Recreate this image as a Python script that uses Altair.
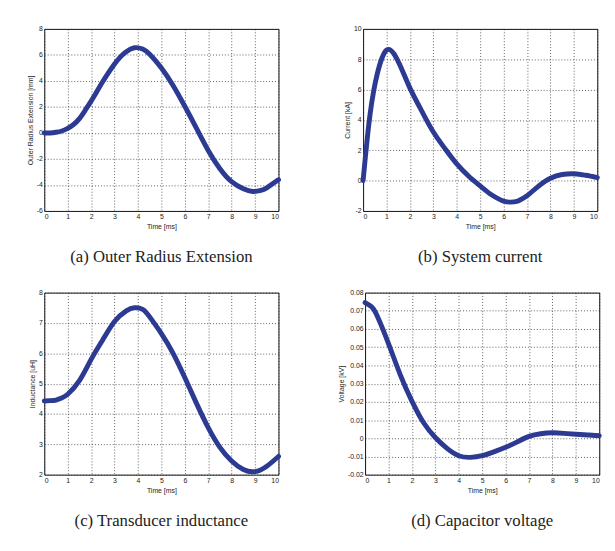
import altair as alt
import pandas as pd

# ---- (a) outer radius extension [mm] ----
t_a = [0, 0.25, 0.5, 0.75, 1, 1.25, 1.5, 1.75, 2, 2.25, 2.5, 2.75, 3, 3.25, 3.5, 3.85, 4.2,
       4.5, 5, 5.5, 6, 6.5, 7, 7.5, 8, 8.5, 8.9, 9.25, 9.5, 10]
r_a = [0, 0.0, 0.05, 0.15, 0.35, 0.65, 1.1, 1.75, 2.45, 3.2, 3.95, 4.65, 5.3, 5.85, 6.25, 6.55,
       6.45, 6.05, 5.0, 3.65, 2.05, 0.35, -1.35, -2.75, -3.75, -4.3, -4.5, -4.42, -4.22, -3.6]

# ---- (b) system current [kA] ----
t_b = [0, 0.1, 0.2, 0.3, 0.45, 0.6, 0.8, 1.0, 1.1, 1.3, 1.5, 2, 2.5, 3, 3.5, 4, 4.5, 5, 5.5,
       6, 6.3, 6.6, 7, 7.5, 8, 8.5, 8.9, 9.5, 10]
i_b = [0, 1.6, 3.1, 4.4, 5.9, 7.0, 8.05, 8.6, 8.65, 8.4, 7.85, 6.1, 4.6, 3.2, 2.1, 1.1, 0.3,
       -0.35, -0.95, -1.35, -1.42, -1.35, -1.0, -0.35, 0.15, 0.4, 0.45, 0.35, 0.2]

# ---- (c) transducer inductance [uH] ----
t_c = [0, 0.25, 0.5, 0.75, 1, 1.5, 2, 2.5, 3, 3.5, 3.85, 4.2, 4.5, 5, 5.5, 6, 6.5, 7, 7.5, 8,
       8.5, 9, 9.5, 10]
l_c = [4.43, 4.44, 4.46, 4.53, 4.65, 5.1, 5.8, 6.45, 7.05, 7.4, 7.5, 7.45, 7.2, 6.65, 6.0, 5.2,
       4.35, 3.55, 2.9, 2.45, 2.17, 2.1, 2.28, 2.6]

# ---- (d) capacitor voltage [kV] ----
t_d = [0, 0.25, 0.5, 1, 1.5, 2, 2.5, 3, 3.5, 4, 4.5, 5, 5.5, 6, 6.5, 7, 7.5, 8, 8.5, 9, 9.5, 10]
v_d = [0.0745, 0.0725, 0.0677, 0.052, 0.035, 0.0204, 0.0085, 0.0004, -0.0056, -0.0096,
       -0.0105, -0.0096, -0.0075, -0.005, -0.002, 0.001, 0.0025, 0.003, 0.0027, 0.0022,
       0.0018, 0.0014]

x_ticks = list(range(11))

LINE = "#2c3a92"
AX_FONT = "Liberation Sans"


def panel(t, v, y_title, y_dom, y_ticks, fmt, caption, interp):
    df = pd.DataFrame({"t": t, "v": v})
    label_expr = (
        f"datum.value < 0 ? '-' + format(-datum.value, '{fmt}') : format(datum.value, '{fmt}')"
    )
    return (
        alt.Chart(df)
        .mark_line(color=LINE, strokeWidth=5, interpolate=interp, strokeCap="round")
        .encode(
            x=alt.X(
                "t:Q",
                scale=alt.Scale(domain=[0, 10], nice=False, zero=False),
                axis=alt.Axis(values=x_ticks, title="Time [ms]", format="d"),
            ),
            y=alt.Y(
                "v:Q",
                scale=alt.Scale(domain=y_dom, nice=False, zero=False),
                axis=alt.Axis(values=y_ticks, title=y_title, labelExpr=label_expr),
            ),
        )
        .properties(
            width=238,
            height=185,
            title=alt.TitleParams(
                caption,
                orient="bottom",
                font="Liberation Serif",
                fontSize=17,
                fontWeight="normal",
                color="#222222",
                offset=20,
            ),
        )
    )


pa = panel(t_a, r_a, "Outer Radius Extension [mm]", [-6, 8], [-6, -4, -2, 0, 2, 4, 6, 8],
           "d", "(a) Outer Radius Extension", "natural")
pb = panel(t_b, i_b, "Current [kA]", [-2, 10], [-2, 0, 2, 4, 6, 8, 10],
           "d", "(b) System current", "monotone")
pc = panel(t_c, l_c, "Inductance [uH]", [2, 8], [2, 3, 4, 5, 6, 7, 8],
           "d", "(c) Transducer inductance", "natural")
pd_ = panel(t_d, v_d, "Voltage [kV]", [-0.02, 0.08],
            [-0.02, -0.01, 0, 0.01, 0.02, 0.03, 0.04, 0.05, 0.06, 0.07, 0.08],
            ".2~f", "(d) Capacitor voltage", "natural")

chart = (
    alt.vconcat(
        alt.hconcat(pa, pb, spacing=54),
        alt.hconcat(pc, pd_, spacing=48),
        spacing=22,
    )
    .properties(padding={"left": 26, "top": 20, "right": 5, "bottom": 5}, background="white")
    .configure_view(stroke="#111111", strokeWidth=1)
    .configure_axis(
        domain=False,
        ticks=False,
        grid=True,
        gridColor="#222222",
        gridDash=[1, 2],
        gridWidth=0.8,
        gridOpacity=0.9,
        labelFont=AX_FONT,
        labelFontSize=7,
        labelColor="#222222",
        labelPadding=2,
        titleFont=AX_FONT,
        titleFontSize=7,
        titleFontWeight="normal",
        titleColor="#222222",
        titlePadding=3,
    )
)

chart.save("out.html", embed_options={"renderer": "svg", "actions": False})
